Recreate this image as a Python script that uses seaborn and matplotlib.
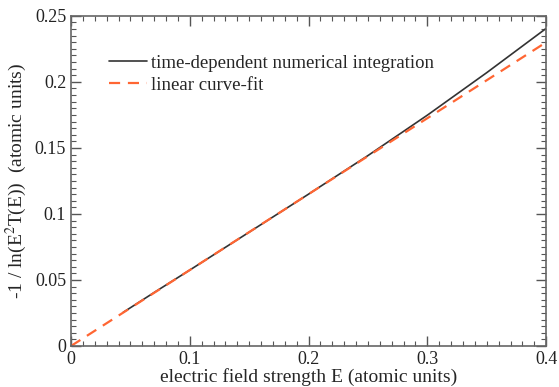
import numpy as np
import pandas as pd
import matplotlib
matplotlib.use('Agg')
import matplotlib.pyplot as plt
import seaborn as sns
from matplotlib.ticker import MultipleLocator

# numerical integration result
field_num = [0.044, 0.07, 0.1, 0.15, 0.2, 0.25, 0.3, 0.35, 0.4]
inv_log_num = [0.0255, 0.0405, 0.0575, 0.0862, 0.1150, 0.1442, 0.1748, 0.2070, 0.2405]

# linear fit endpoints
field_fit = [0.0, 0.4]
inv_log_fit = [0.0, 0.2300]

x_ticks = [0, 0.1, 0.2, 0.3, 0.4]
x_labels = ['0', '0.1', '0.2', '0.3', '0.4']
y_ticks = [0, 0.05, 0.1, 0.15, 0.2, 0.25]
y_labels = ['0', '0.05', '0.1', '0.15', '0.2', '0.25']

sns.set_style('ticks')
plt.rcParams['font.family'] = ['Liberation Serif', 'DejaVu Serif']
plt.rcParams['mathtext.fontset'] = 'stix'

num_df = pd.DataFrame({'E': field_num, 'y': inv_log_num})
fit_df = pd.DataFrame({'E': field_fit, 'y': inv_log_fit})

fig, ax = plt.subplots(figsize=(5.59, 3.87), dpi=100)
fig.subplots_adjust(left=0.127, right=0.977, top=0.959, bottom=0.106)

sns.lineplot(data=num_df, x='E', y='y', ax=ax, color='#333333', lw=1.2,
             label='time-dependent numerical integration')
sns.lineplot(data=fit_df, x='E', y='y', ax=ax, color='#ff6633', lw=1.6,
             label='linear curve-fit')
ax.lines[1].set_dashes([5, 3.5])

ax.set_xlim(0, 0.4)
ax.set_ylim(0, 0.25)
ax.set_xticks(x_ticks)
ax.set_xticklabels(x_labels)
ax.set_yticks(y_ticks)
ax.set_yticklabels(y_labels)
ax.xaxis.set_minor_locator(MultipleLocator(0.01))
ax.yaxis.set_minor_locator(MultipleLocator(0.005))
ax.tick_params(which='both', direction='in', top=True, right=True, colors='#555555',
               labelcolor='#222222', labelsize=13)
ax.tick_params(which='major', length=7, width=1)
ax.tick_params(which='minor', length=3.5, width=0.8)
for s in ax.spines.values():
    s.set_color('#666666')
    s.set_linewidth(1.2)

ax.set_xlabel('electric field strength E (atomic units)', fontsize=14, labelpad=0)
ax.set_ylabel(r'-1 / ln(E$^2$T(E))  (atomic units)', fontsize=14, labelpad=4)

leg = ax.legend(loc='upper left', bbox_to_anchor=(0.065, 0.905), frameon=False, fontsize=13.5,
                handlelength=2.0, handletextpad=0.2, labelspacing=0.25, borderaxespad=0)
leg.get_lines()[1].set_dashes([5, 3.5])

fig.savefig('out.png', dpi=100)
